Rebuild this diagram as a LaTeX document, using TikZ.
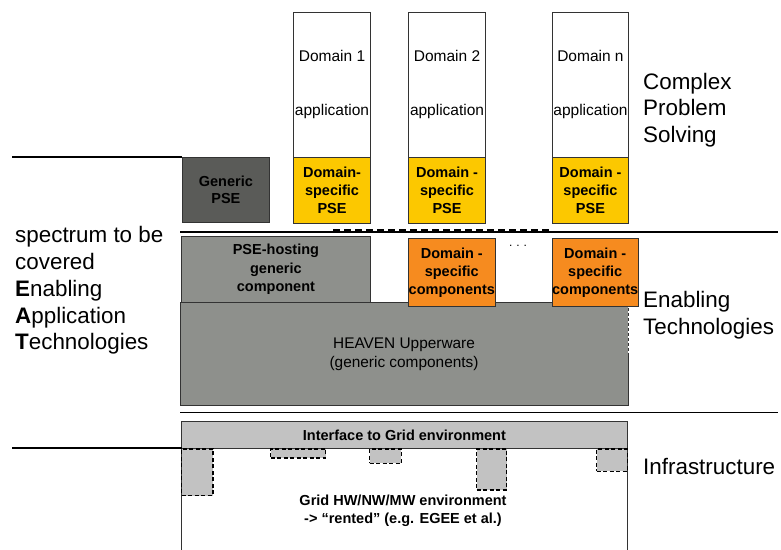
\documentclass[tikz,border=0pt]{standalone}
\usepackage{fontspec}
\setmainfont{Liberation Sans}
\definecolor{pseyellow}{HTML}{FCC800}
\definecolor{comporange}{HTML}{F68B1F}
\definecolor{darkgrey}{HTML}{5A5B58}
\definecolor{midgrey}{HTML}{8E908C}
\definecolor{lightgrey}{HTML}{C2C2C2}
\tikzset{
  box/.style={draw=black!80, line width=0.8pt, inner sep=0pt, align=center, anchor=north west},
  bfont/.style={font=\fontsize{14.5}{18.3}\selectfont\bfseries},
  appbox/.style={box, fill=white, minimum width=76.7pt, minimum height=145.3pt, font=\fontsize{15.5}{54}\selectfont},
  psebox/.style={box, fill=pseyellow, minimum width=76.7pt, minimum height=65.7pt, bfont},
  compbox/.style={box, fill=comporange, minimum width=75pt, minimum height=67.7pt, bfont},
  dbox/.style={draw=black, dash pattern=on 4pt off 2.5pt, line width=1.2pt, fill=lightgrey, inner sep=0pt, anchor=north west},
  sidetext/.style={font=\fontsize{22.4}{26.7}\selectfont, align=left, inner sep=0pt, anchor=base west},
  sep/.style={line width=1.4pt, black}
}
\begin{document}
\begin{tikzpicture}[x=1pt,y=-1pt]
\useasboundingbox (0,0) rectangle (781,549);

% application boxes
\node[appbox] (app1) at (293.3,11.7) {Domain 1\\application};
\node[appbox] (app2) at (408.3,11.7) {Domain 2\\application};
\node[appbox] (appn) at (551.7,11.7) {Domain n\\application};

% domain-specific PSE
\node[psebox] (pse1) at (293.3,157) {Domain-\\specific\\PSE};
\node[psebox] (pse2) at (408.3,157) {Domain -\\specific\\PSE};
\node[psebox] (psen) at (551.7,157) {Domain -\\specific\\PSE};

% generic PSE
\node[box, fill=darkgrey, minimum width=87.6pt, minimum height=65pt, font=\fontsize{14.5}{17.5}\selectfont\bfseries] (gpse) at (181.7,156.7) {Generic\\PSE};

% separators
\draw[line width=2pt] (12,156.5) -- (182,156.5);
\draw[sep] (180,232) -- (778,232);
\draw[line width=2pt, dash pattern=on 7pt off 4pt] (333,230) -- (550,230);

% HEAVEN
\node[box, draw=none, fill=midgrey, minimum width=447.3pt, minimum height=102.3pt, font=\fontsize{15.4}{18.3}\selectfont] (heaven) at (180,302.7) {HEAVEN Upperware\\(generic components)};
\draw[black!80, line width=0.8pt] ([yshift=-52pt]heaven.north east) -- (heaven.south east) -- (heaven.south west) -- (heaven.north west) -- (heaven.north east);
\draw[black!80, line width=0.8pt, dash pattern=on 3pt off 2pt] (heaven.north east) -- ([yshift=-52pt]heaven.north east);

% PSE-hosting generic component
\node[box, fill=midgrey, minimum width=189pt, minimum height=65.7pt, bfont] (phost) at (181,236) {PSE-hosting\\generic\\component};

% domain-specific components
\node[compbox] (comp2) at (408.3,238.3) {Domain -\\specific\\components};
\node[compbox] (compn) at (551.7,238.3) {Domain -\\specific\\components};
\node[font=\fontsize{12}{12}\selectfont, inner sep=0pt] (dots) at (518,246) {.\,\,.\,\,.};

\draw[sep] (180,412.7) -- (778,412.7);

% infrastructure
\node[box, fill=white, minimum width=446.6pt, minimum height=120pt] (env) at (180.7,448.3) {};
\node[box, fill=lightgrey, minimum width=446.6pt, minimum height=27.6pt, bfont] (iface) at (180.7,420.7) {Interface to Grid environment};
\draw[line width=2pt] (12,448.3) -- (182,448.3);

\node[dbox, minimum width=31.3pt, minimum height=46.7pt] (r1) at (181,448.3) {};
\node[dbox, minimum width=55pt, minimum height=9pt] (r2) at (270,448.3) {};
\node[dbox, minimum width=31.7pt, minimum height=14.4pt] (r3) at (369,448.3) {};
\node[dbox, minimum width=30pt, minimum height=41pt] (r4) at (476,448.3) {};
\node[dbox, minimum width=30.7pt, minimum height=22.4pt] (r5) at (596,448.3) {};

\node[bfont, align=center, inner sep=0pt] (envtext) at (403,511) {Grid HW/NW/MW environment\\-> “rented” (e.g. EGEE et al.)};

% side texts (base anchor = last line baseline)
\node[sidetext] (left) at (15,349.7) {spectrum to be\\covered\\\textbf{E}nabling\\\textbf{A}pplication\\\textbf{T}echnologies};
\node[sidetext] (cps) at (643,142.5) {Complex\\Problem\\Solving};
\node[sidetext] (et) at (643,334) {Enabling\\Technologies};
\node[sidetext] (infra) at (643,474) {Infrastructure};
\end{tikzpicture}
\end{document}
